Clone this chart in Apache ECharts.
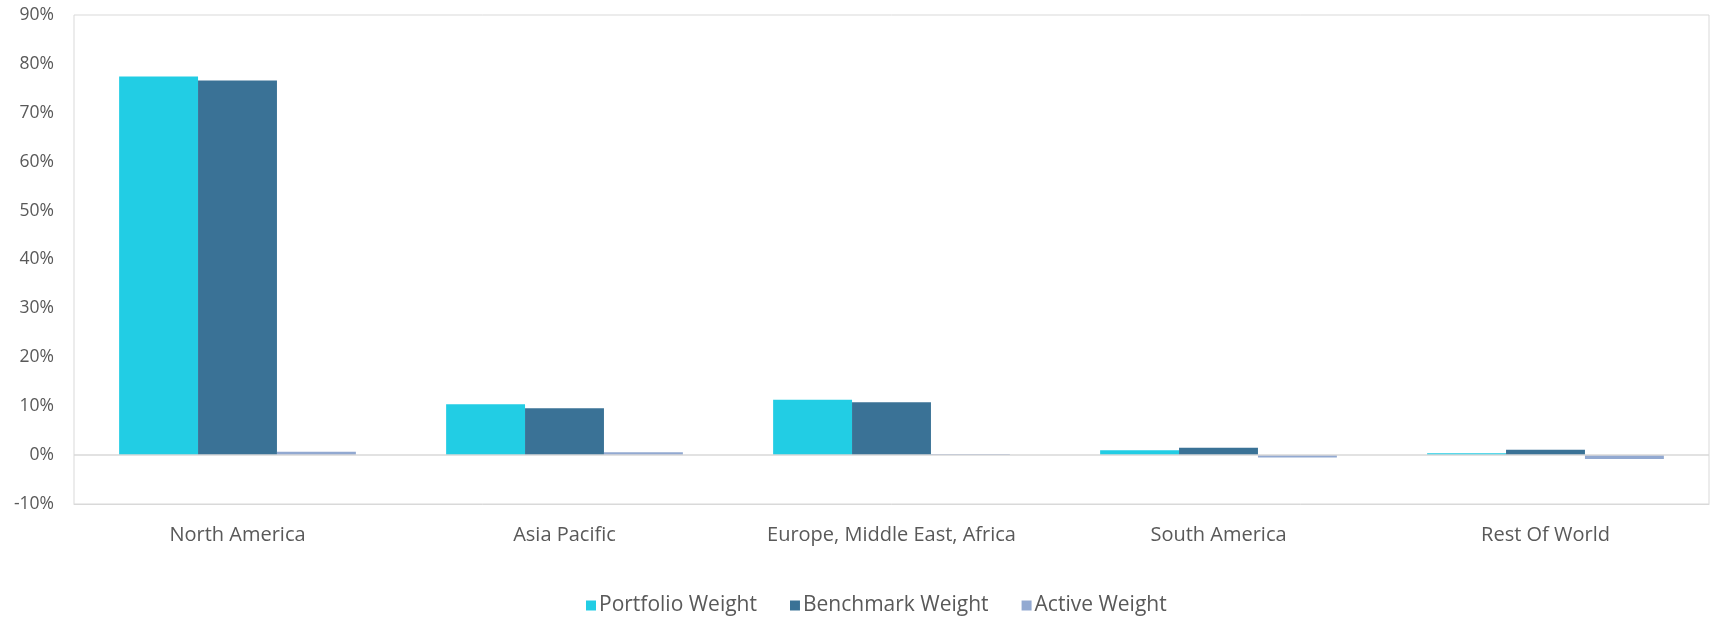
<!DOCTYPE html>
<html>
<head>
<meta charset="utf-8">
<script src="https://cdn.jsdelivr.net/npm/echarts@6/dist/echarts.min.js"></script>
<style>
html,body{margin:0;padding:0;background:#fff;}
#chart{width:1711px;height:617px;}
</style>
</head>
<body>
<div id="chart"></div>
<script>
const categories = ['North America', 'Asia Pacific', 'Europe, Middle East, Africa', 'South America', 'Rest Of World'];
const portfolioWeight = [77.4, 10.4, 11.3, 1.0, 0.4];
const benchmarkWeight = [76.6, 9.6, 10.8, 1.5, 1.1];
const activeWeight = [0.7, 0.6, 0.2, -0.5, -0.8];
const seriesNames = ['Portfolio Weight', 'Benchmark Weight', 'Active Weight'];
const yTicks = { min: -10, max: 90, interval: 10 };

const font = '"Open Sans", "Noto Sans", sans-serif';
const textColor = '#595959';
const chart = echarts.init(document.getElementById('chart'));
chart.setOption({
  animation: false,
  color: ['#22CDE4', '#3A7296', '#92A9D1'],
  textStyle: { fontFamily: font },
  grid: { left: 74, right: 2, top: 15, bottom: 113, show: true, borderColor: '#d9d9d9', borderWidth: 1, containLabel: false },
  legend: {
    top: 590, left: 581,
    itemWidth: 10, itemHeight: 10, itemGap: 33,
    icon: 'rect',
    textStyle: { color: textColor, fontSize: 21, fontFamily: font, padding: [0, 0, 0, -2] },
    data: seriesNames
  },
  xAxis: {
    type: 'category',
    data: categories,
    axisLine: { show: true, onZero: false, lineStyle: { color: '#d9d9d9' } },
    axisTick: { show: false },
    axisLabel: { color: textColor, fontSize: 20, margin: 21, fontFamily: font }
  },
  yAxis: {
    type: 'value',
    min: yTicks.min, max: yTicks.max, interval: yTicks.interval,
    axisLine: { show: false },
    axisTick: { show: false },
    splitLine: { show: false },
    axisLabel: { color: textColor, fontSize: 17.5, margin: 20, fontFamily: font, formatter: v => v + '%' }
  },
  series: [
    { name: seriesNames[0], type: 'bar', data: portfolioWeight, barGap: '0%', barCategoryGap: '27.6%',
      markLine: { silent: true, symbol: 'none', label: { show: false },
        lineStyle: { color: '#d9d9d9', type: 'solid', width: 1.5 }, data: [{ yAxis: 0 }] } },
    { name: seriesNames[1], type: 'bar', data: benchmarkWeight, barGap: '0%', barCategoryGap: '27.6%' },
    { name: seriesNames[2], type: 'bar', data: activeWeight, barGap: '0%', barCategoryGap: '27.6%' }
  ]
});
</script>
</body>
</html>
